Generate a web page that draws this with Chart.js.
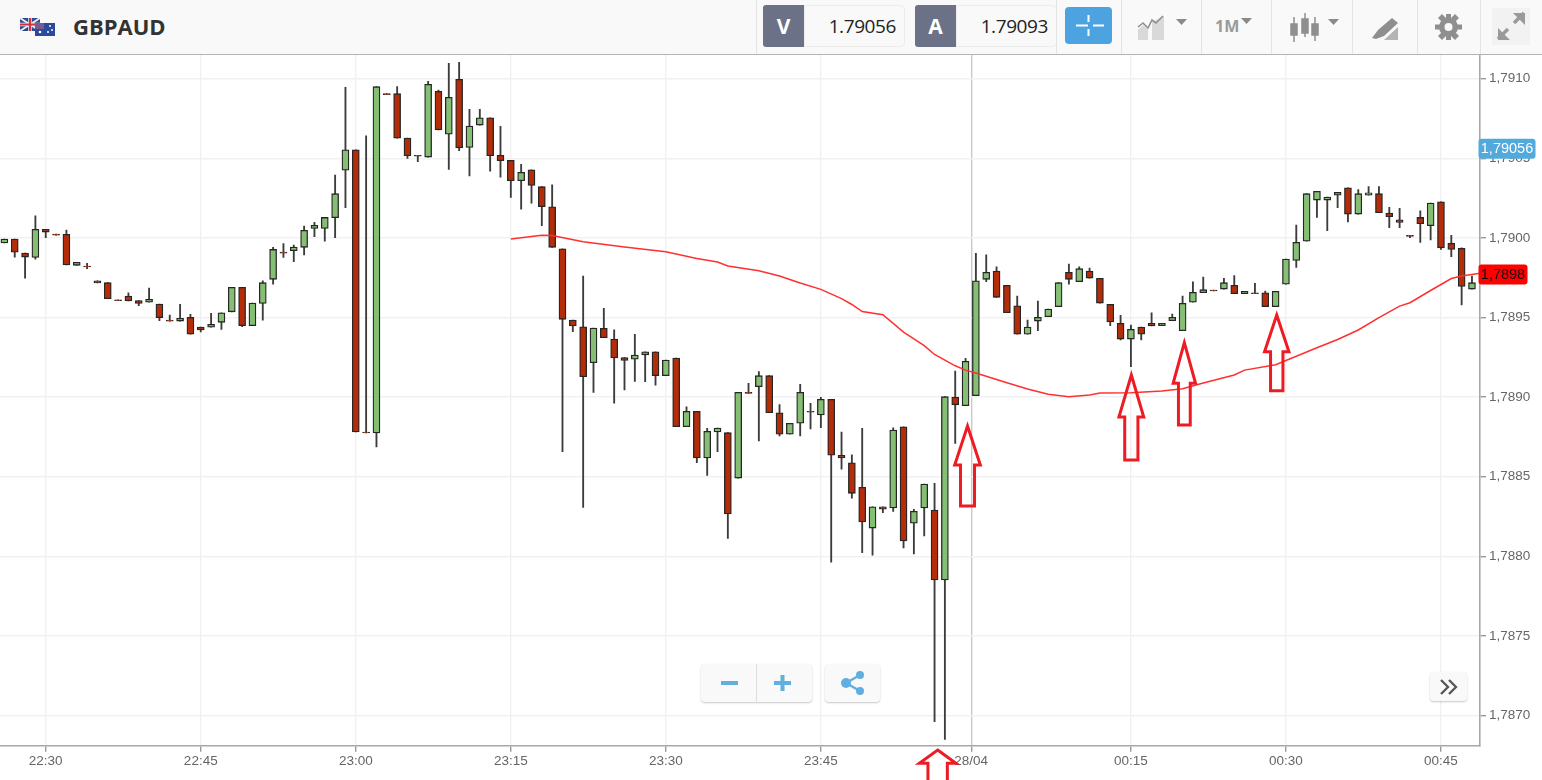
<!DOCTYPE html>
<html><head><meta charset="utf-8"><title>GBPAUD</title>
<script src="https://cdn.jsdelivr.net/npm/chart.js@4"></script>
<style>
html,body{margin:0;padding:0;background:#fff;width:1542px;height:780px;overflow:hidden;font-family:"Open Sans",sans-serif}
#c{position:absolute;left:0;top:0}
#hdr{position:absolute;left:0;top:0;width:1542px;height:54px;background:#f9f9f9;border-bottom:1px solid #b4b4b4;box-sizing:content-box}
.abs{position:absolute}
.sep{position:absolute;top:0;width:1px;height:54px;background:#e4e4e4}
.dark{position:absolute;top:5px;height:42px;width:41px;background:#6b7186;color:#fff;font:700 21px/42px "Open Sans";text-align:center;border-radius:3px 0 0 3px}
.val{position:absolute;top:5px;height:40px;background:#f9f9f9;border:1px solid #ececec;border-radius:0 4px 4px 0;font:400 19px/40px "Open Sans";color:#222;text-align:right;letter-spacing:-.4px}
.btn{position:absolute;background:#f9f9f9;border-radius:4px;box-shadow:0 1px 2px rgba(0,0,0,.22)}
</style></head><body>
<canvas id="c" width="1542" height="780"></canvas>
<div id="hdr">
  <svg class="abs" style="left:19px;top:17px" width="38" height="20" viewBox="0 0 38 20">
    <rect x="1" y="1" width="20" height="13" fill="#2f4a8f"/>
    <path d="M1 1L21 14M21 1L1 14" stroke="#eee" stroke-width="2"/>
    <path d="M11 1V14M1 7.5H21" stroke="#eee" stroke-width="3.5"/>
    <path d="M11 1V14M1 7.5H21" stroke="#d03040" stroke-width="2"/>
    <rect x="16" y="6" width="20" height="13" fill="#2a4a9c"/>
    <rect x="16" y="6" width="9" height="6" fill="#7a5a90"/>
    <circle cx="31" cy="9" r="1" fill="#fff"/><circle cx="33" cy="13" r="1" fill="#fff"/><circle cx="29" cy="15" r="1" fill="#fff"/><circle cx="21" cy="15" r="1.3" fill="#fff"/>
  </svg>
  <div class="abs" style="left:73px;top:10px;font:700 22px/32px 'Open Sans';color:#333">GBPAUD</div>
  <div class="sep" style="left:756px"></div>
  <div class="dark" style="left:763px">V</div>
  <div class="val" style="left:804px;width:91px;padding-right:8px">1.79056</div>
  <div class="dark" style="left:915px">A</div>
  <div class="val" style="left:956px;width:91px;padding-right:8px">1.79093</div>
  <div class="sep" style="left:1056px"></div><div class="sep" style="left:1121px"></div><div class="sep" style="left:1201px"></div><div class="sep" style="left:1271px"></div><div class="sep" style="left:1352px"></div><div class="sep" style="left:1417px"></div><div class="sep" style="left:1480px"></div>
  <div class="abs" style="left:1065px;top:7px;width:47px;height:37px;background:#4da3e0;border-radius:4px"></div>
  <svg class="abs" style="left:0;top:0" width="1542" height="54" viewBox="0 0 1542 54">
    <path d="M1076 25.5h12M1093 25.5h11M1088.5 15v7M1088.5 29v7" stroke="#fff" stroke-width="2"/>
    <path d="M1138 40V30l5-5 5 4V40zM1152 40V22l6-3 6-3V40z" fill="#d9d9d9"/>
    <path d="M1138 27l5-4 5 5 4-8 4 3 7-7" fill="none" stroke="#8f8f8f" stroke-width="1.6"/>
    <path d="M1176 19h11l-5.500 6zM1241 18h11l-5.500 6zM1328 19h11l-5.500 6z" fill="#8a8a8a"/>
    <g stroke="#8f8f8f" stroke-width="1.500" fill="#8f8f8f">
      <path d="M1294 17v25M1305 13v24M1315 17v24"/>
      <rect x="1291" y="24" width="6" height="11"/><rect x="1302" y="19" width="6" height="14"/><rect x="1312" y="24" width="6" height="11"/>
    </g>
    <path d="M1372 38l6-8 14-12 6 5-14 13-8 3z" fill="#8f8f8f"/>
    <path d="M1384 40h14V27z" fill="#b4b4b4"/>
    <g fill="#8f8f8f"><circle cx="1448.500" cy="27" r="9.500"/><path d="M1446 14h5v5h-5zM1446 35h5v5h-5zM1435 24.500h5v5h-5zM1457 24.500h5v5h-5z"/><path d="M1438 18l4-4 4 4-4 4zM1451 18l4-4 4 4-4 4zM1438 36l4-4 4 4-4 4zM1451 36l4-4 4 4-4 4z"/></g>
    <circle cx="1448.500" cy="27" r="4" fill="#f9f9f9"/>
    <rect x="1492" y="8" width="38" height="37" fill="#f2f2f2"/>
    <path d="M1498 39l10-10M1514 23l10-10" stroke="#9a9a9a" stroke-width="3.500"/>
    <path d="M1498 28v12h12zM1513 13h12v12z" fill="#9a9a9a"/>
  </svg>
  <div class="abs" style="left:1215px;top:14px;font:700 16px/24px 'Open Sans';color:#9a9a9a">1M</div>
</div>
<div class="btn" style="left:701px;top:664px;width:111px;height:38px">
  <div class="abs" style="left:55px;top:0;width:1px;height:38px;background:#ddd"></div>
  <svg class="abs" style="left:0;top:0" width="111" height="38"><path d="M20 19h17M73 19h17M81.500 11v16" stroke="#62aede" stroke-width="4"/></svg>
</div>
<div class="btn" style="left:825px;top:664px;width:55px;height:38px">
  <svg class="abs" style="left:0;top:0" width="55" height="38"><path d="M21 19L35 11M21 19L35 27" stroke="#62aede" stroke-width="2.500"/><circle cx="21" cy="19" r="5" fill="#62aede"/><circle cx="35" cy="11" r="4" fill="#62aede"/><circle cx="35" cy="27" r="4" fill="#62aede"/></svg>
</div>
<div class="btn" style="left:1430px;top:672px;width:37px;height:29px">
  <svg class="abs" style="left:0;top:0" width="37" height="29"><path d="M11 8l7 7-7 7M19 8l7 7-7 7" fill="none" stroke="#555" stroke-width="2.300"/></svg>
</div>
<script>
const xTickMinutes=[4,19,34,49,64,79,93.55,109,124,139];
const xTickLabels=['22:30','22:45','23:00','23:15','23:30','23:45','28/04','00:15','00:30','00:45'];
const yTicks=[1.7870,1.7875,1.7880,1.7885,1.7890,1.7895,1.7900,1.7905,1.7910];

const opens=[1.789968,1.789993,1.789905,1.789878,1.790054,1.790024,1.790023,1.789828,1.789824,1.789731,1.789719,1.789612,1.789635,1.789606,1.789597,1.789585,1.789484,1.789478,1.789501,1.789440,
1.789439,1.789470,1.789536,1.789690,1.789449,1.789589,1.789740,1.789911,1.789920,1.789941,1.790060,1.790060,1.790127,1.790426,1.790554,1.788781,1.788775,1.790906,1.790906,1.790627,
1.790519,1.790508,1.790921,1.790651,1.790996,1.790569,1.790709,1.790755,1.790519,1.790487,1.790359,1.790428,1.790322,1.790196,1.789932,1.789484,1.789442,1.789216,1.789432,1.789365,
1.789248,1.789238,1.789266,1.789285,1.789135,1.789246,1.788814,1.788911,1.788618,1.788781,1.788777,1.788492,1.789030,1.789066,1.789135,1.788902,1.788768,1.788836,1.788911,1.788888,
1.788986,1.788635,1.788588,1.788434,1.788178,1.788312,1.788304,1.788814,1.788208,1.788304,1.788291,1.787852,1.789001,1.788946,1.789009,1.789740,1.789792,1.789702,1.789574,1.789396,
1.789478,1.789505,1.789568,1.789784,1.789725,1.789792,1.789746,1.789583,1.789464,1.789365,1.789440,1.789464,1.789449,1.789480,1.789417,1.789597,1.789656,1.789673,1.789679,1.789702,
1.789650,1.789656,1.789656,1.789568,1.789710,1.789859,1.789979,1.790238,1.790238,1.790269,1.790315,1.790150,1.790269,1.790278,1.790156,1.790114,1.790016,1.790129,1.790077,1.790227,
1.789966,1.789935,1.789679];
const closes=[1.789993,1.789910,1.789880,1.790054,1.790037,1.790018,1.789830,1.789847,1.789818,1.789717,1.789618,1.789606,1.789604,1.789589,1.789614,1.789499,1.789478,1.789495,1.789396,1.789423,
1.789457,1.789530,1.789690,1.789449,1.789591,1.789719,1.789928,1.789905,1.789943,1.790048,1.790079,1.790129,1.790278,1.790554,1.788781,1.788775,1.790950,1.790900,1.790627,1.790516,
1.790513,1.790965,1.790679,1.790883,1.790566,1.790703,1.790755,1.790516,1.790485,1.790359,1.790412,1.790330,1.790196,1.789941,1.789489,1.789447,1.789128,1.789434,1.789373,1.789246,
1.789231,1.789265,1.789285,1.789135,1.789233,1.788814,1.788911,1.788618,1.788785,1.788806,1.788266,1.789030,1.789024,1.789135,1.788902,1.788768,1.788836,1.789030,1.788905,1.788986,
1.788635,1.788618,1.788396,1.788216,1.788312,1.788297,1.788794,1.788097,1.788283,1.788454,1.787852,1.789003,1.788952,1.789225,1.789731,1.789784,1.789627,1.789530,1.789396,1.789440,
1.789501,1.789553,1.789719,1.789740,1.789807,1.789748,1.789591,1.789472,1.789365,1.789426,1.789396,1.789447,1.789464,1.789501,1.789589,1.789658,1.789675,1.789667,1.789719,1.789650,
1.789665,1.789650,1.789568,1.789665,1.789867,1.789972,1.790278,1.790293,1.790257,1.790286,1.790150,1.790278,1.790284,1.790158,1.790133,1.790098,1.790010,1.790089,1.790219,1.789938,
1.789928,1.789696,1.789719];
const highs=[1.789993,1.789993,1.789905,1.790139,1.790054,1.790024,1.790050,1.789847,1.789840,1.789731,1.789719,1.789612,1.789656,1.789606,1.789685,1.789585,1.789516,1.789583,1.789520,1.789440,
1.789526,1.789530,1.789690,1.789690,1.789591,1.789731,1.789941,1.789964,1.789955,1.790075,1.790098,1.790129,1.790395,1.790946,1.790554,1.790642,1.790950,1.790906,1.790950,1.790627,
1.790519,1.790983,1.790929,1.791096,1.791103,1.790808,1.790808,1.790755,1.790701,1.790487,1.790462,1.790428,1.790322,1.790334,1.789932,1.789484,1.789761,1.789434,1.789558,1.789423,
1.789248,1.789395,1.789285,1.789285,1.789233,1.789246,1.788940,1.788911,1.788804,1.788806,1.788777,1.789030,1.789087,1.789160,1.789135,1.788953,1.788836,1.789081,1.788961,1.788999,
1.788986,1.788781,1.788638,1.788804,1.788312,1.788312,1.788808,1.788814,1.788296,1.788454,1.788459,1.789003,1.789164,1.789244,1.789903,1.789894,1.789819,1.789702,1.789635,1.789484,
1.789604,1.789553,1.789719,1.789836,1.789819,1.789811,1.789746,1.789583,1.789514,1.789453,1.789440,1.789530,1.789464,1.789522,1.789635,1.789725,1.789754,1.789673,1.789746,1.789763,
1.789665,1.789715,1.789667,1.789665,1.789867,1.790081,1.790278,1.790293,1.790257,1.790286,1.790315,1.790303,1.790322,1.790322,1.790192,1.790186,1.790016,1.790171,1.790219,1.790227,
1.790016,1.789938,1.789761];
const lows=[1.789968,1.789880,1.789748,1.789867,1.790001,1.790018,1.789830,1.789828,1.789807,1.789717,1.789618,1.789606,1.789604,1.789574,1.789597,1.789480,1.789478,1.789478,1.789396,1.789409,
1.789439,1.789426,1.789536,1.789442,1.789449,1.789484,1.789710,1.789878,1.789851,1.789894,1.790008,1.789979,1.790001,1.790190,1.788781,1.788775,1.788687,1.790900,1.790627,1.790500,
1.790479,1.790508,1.790679,1.790431,1.790548,1.790389,1.790709,1.790420,1.790381,1.790255,1.790181,1.790219,1.790077,1.789941,1.788657,1.789411,1.788308,1.789030,1.789373,1.788963,
1.789045,1.789099,1.789097,1.789076,1.789135,1.788814,1.788814,1.788588,1.788509,1.788657,1.788113,1.788492,1.789024,1.788725,1.788902,1.788756,1.788768,1.788756,1.788800,1.788808,
1.787963,1.788547,1.788365,1.788023,1.788007,1.788274,1.788283,1.788053,1.788015,1.788128,1.786962,1.786851,1.788710,1.788946,1.789009,1.789725,1.789627,1.789530,1.789396,1.789396,
1.789417,1.789505,1.789568,1.789710,1.789725,1.789748,1.789591,1.789449,1.789359,1.789191,1.789359,1.789447,1.789449,1.789480,1.789417,1.789597,1.789656,1.789667,1.789679,1.789650,
1.789650,1.789650,1.789568,1.789568,1.789710,1.789815,1.789979,1.790129,1.790045,1.790190,1.790100,1.790150,1.790269,1.790158,1.790064,1.790064,1.790001,1.789972,1.789987,1.789928,
1.789882,1.789579,1.789679];

const maMinutes=[49,52,53,56,60,64,67,69,70,73,75,77,79,81,82,83,85,87,89,90,92,93,94,97,99,101,103,105,106,109,112,114,116,119,120,123,124,127,129,131,133,135,136,138,140,141,143];
const maValues=[1.789993,1.790017,1.790016,1.789976,1.789943,1.789913,1.789871,1.789849,1.789824,1.789794,1.789761,1.789717,1.789677,1.789619,1.789582,1.789538,1.789518,1.789409,1.789324,1.789268,1.789197,1.789170,1.789152,1.789091,1.789051,1.789018,1.789003,1.789013,1.789026,1.789028,1.789039,1.789053,1.789089,1.789139,1.789170,1.789204,1.789230,1.789310,1.789362,1.789422,1.789500,1.789572,1.789593,1.789670,1.789745,1.789761,1.789780];

const bidPrice=1.79056, maLabelPrice=1.78977;
const arrowMinutes=[93.19,109.04,114.17,123.11,90.3];
const arrowTips=[1.788819,1.789139,1.789342,1.789516,1.786784];
const arrowHalfHead=[12.8,12.4,11.2,12.2,18.3];
const arrowHalfShaft=[7,6.6,5.9,6.2,9.7];
const arrowHeadLen=[39,42,40.6,36.7,13.3];
const arrowLen=[80,85,82.3,75.7,40];

const minutes=opens.map((_,i)=>i);
const overlay={id:'overlay',afterDatasetsDraw(ch){
  const {ctx,scales:{x,y}}=ch;
  ctx.save();
  ctx.strokeStyle='#ed1c24';ctx.lineWidth=3;ctx.lineJoin='miter';
  arrowMinutes.forEach((m,k)=>{
    const px=x.getPixelForValue(m),py=y.getPixelForValue(arrowTips[k]);
    const hh=arrowHalfHead[k],hs=arrowHalfShaft[k],hl=arrowHeadLen[k],l=arrowLen[k];
    ctx.beginPath();ctx.moveTo(px,py);ctx.lineTo(px+hh,py+hl);ctx.lineTo(px+hs,py+hl);ctx.lineTo(px+hs,py+l);
    ctx.lineTo(px-hs,py+l);ctx.lineTo(px-hs,py+hl);ctx.lineTo(px-hh,py+hl);ctx.closePath();ctx.stroke();
  });
  ctx.textBaseline='middle';ctx.font='14.5px "Liberation Sans"';
  const tag=(price,txt,w,bg,fg)=>{
    const py=y.getPixelForValue(price);
    ctx.fillStyle=bg;ctx.beginPath();ctx.roundRect(1478.5,py-10,w,20,3);ctx.fill();
    ctx.fillStyle=fg;ctx.textAlign='center';ctx.fillText(txt,1478.5+w/2,py+.5);
  };
  tag(bidPrice,bidPrice.toFixed(5).replace('.',','),57,'#52a9dc','#fff');
  tag(maLabelPrice,maLabelPrice.toFixed(4).replace('.',','),49,'#ff0000','#111');
  ctx.restore();
}};
new Chart(document.getElementById('c'),{
  type:'bar',
  data:{datasets:[
    {type:'line',label:'MA',data:maMinutes.map((m,i)=>({x:m,y:maValues[i]})),borderColor:'#ff3030',borderWidth:1.5,pointRadius:0,tension:0,order:1},
    {label:'Body',data:minutes.map(i=>({x:i,y:[opens[i],closes[i]]})),
     backgroundColor:minutes.map(i=>closes[i]>opens[i]?'#85bf73':'#b52c08'),borderColor:'#262626',borderWidth:1.3,borderSkipped:false,barThickness:7,grouped:false,order:2},
    {label:'Wick',data:minutes.map(i=>({x:i,y:[lows[i],highs[i]]})),backgroundColor:'#3c3c3c',borderWidth:0,barThickness:1.2,grouped:false,order:3}
  ]},
  options:{
    responsive:false,animation:false,events:[],
    layout:{padding:{left:0,right:0,top:55,bottom:0}},
    plugins:{legend:{display:false},tooltip:{enabled:false},title:{display:false}},
    scales:{
      x:{type:'linear',min:-0.4257,max:142.777,position:'bottom',offset:false,
        afterBuildTicks(s){s.ticks=xTickMinutes.map(v=>({value:v}));},
        afterFit(s){s.height=34.3;},
        ticks:{autoSkip:false,maxRotation:0,minRotation:0,padding:1,color:'#666',font:{family:'"Liberation Sans"',size:13.5},callback:(v,i)=>xTickLabels[i]},
        grid:{offset:false,color:c=>c.index===6?'#c9c9c9':'#f1f1f1',lineWidth:1.4,tickLength:6,tickColor:'#999'},
        border:{color:'#a8a8a8',width:1.6}},
      y:{type:'linear',position:'right',min:1.786811,max:1.791149,
        afterBuildTicks(s){s.ticks=yTicks.map(v=>({value:v}));},
        afterFit(s){s.width=62;},
        ticks:{padding:3,color:'#666',font:{family:'"Liberation Sans"',size:13.5},callback:v=>v.toFixed(4).replace('.',',')},
        grid:{color:'#f1f1f1',lineWidth:1.4,tickLength:6,tickColor:'#999'},
        border:{color:'#a8a8a8',width:1.6}}
    }
  },
  plugins:[overlay]
});
</script>
</body></html>
